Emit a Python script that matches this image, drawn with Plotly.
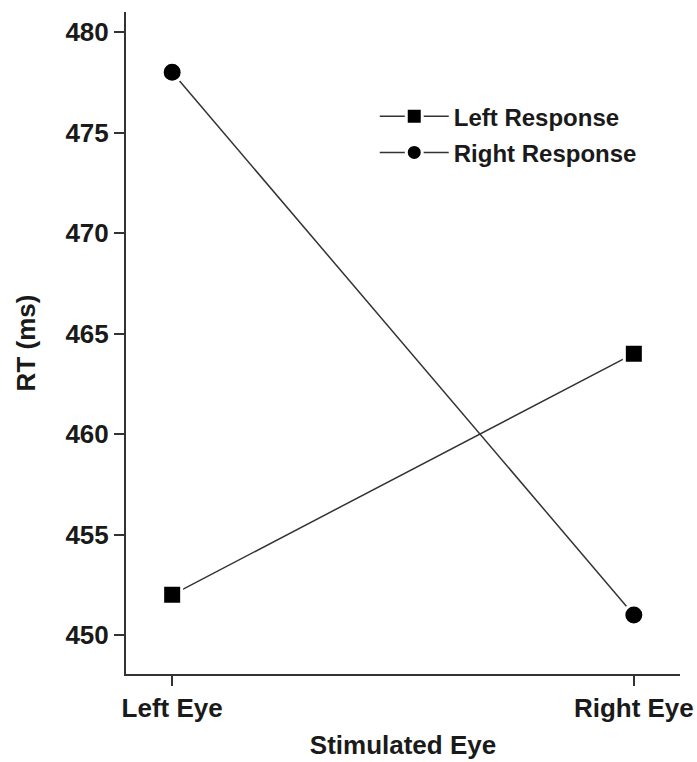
import plotly.graph_objects as go

categories = ["Left Eye", "Right Eye"]
left_response = [452, 464]
right_response = [478, 451]
y_ticks = [450, 455, 460, 465, 470, 475, 480]

FONT = "Liberation Sans, Arial, sans-serif"
TXT = "#1a1a1a"
FS = 26

fig = go.Figure()
fig.add_trace(go.Scatter(
    x=[0, 1], y=left_response, name="Left Response", mode="lines+markers",
    legendgroup="a",
    line=dict(color="#333333", width=1.5),
    marker=dict(symbol="square", size=19, color="black", line=dict(color="white", width=3)),
))
fig.add_trace(go.Scatter(
    x=[0, 1], y=right_response, name="Right Response", mode="lines+markers",
    legendgroup="b",
    line=dict(color="#333333", width=1.5),
    marker=dict(symbol="circle", size=20, color="black", line=dict(color="white", width=3)),
))

fig.update_layout(
    width=697, height=762,
    margin=dict(l=126, r=17, t=12, b=88),
    paper_bgcolor="white", plot_bgcolor="white",
    font=dict(family=FONT, size=FS, color=TXT, weight="bold"),
    showlegend=True,
    legend=dict(x=0.449, y=0.876, xanchor="left", yanchor="top",
                bgcolor="rgba(0,0,0,0)", font=dict(size=24, color=TXT, weight="bold"),
                itemwidth=69, tracegroupgap=2),
    xaxis=dict(
        range=[-0.1, 1.1], tickvals=[0, 1], ticktext=categories,
        showline=True, linecolor="#333333", linewidth=2,
        ticks="outside", ticklen=10, tickwidth=1.5, tickcolor="#333333",
        showgrid=False, zeroline=False, automargin=False,
        title=dict(text="Stimulated Eye", standoff=14, font=dict(size=FS)),
        tickfont=dict(size=FS),
    ),
    yaxis=dict(
        range=[448.06, 481.0], tickvals=y_ticks,
        showline=True, linecolor="#333333", linewidth=2,
        ticks="outside", ticklen=10, tickwidth=1.5, tickcolor="#333333",
        showgrid=False, zeroline=False, automargin=False,
        title=dict(text="RT (ms)", standoff=22, font=dict(size=FS)),
        tickfont=dict(size=FS),
    ),
)

fig.write_html("out.html", config={"displayModeBar": False},
               post_script="document.body.style.margin='0px';")
